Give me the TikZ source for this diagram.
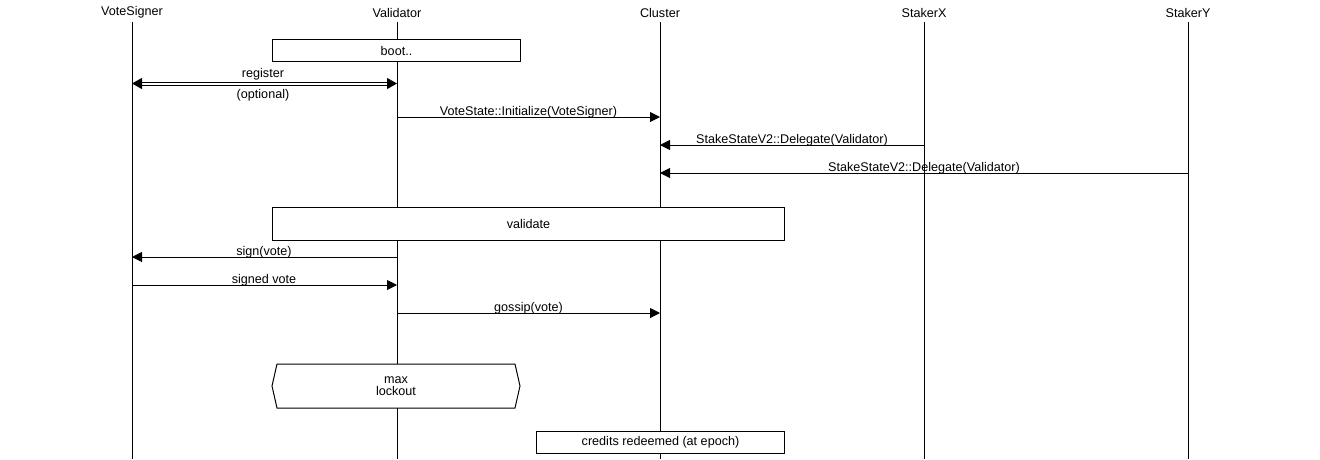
\documentclass[tikz,border=0pt]{standalone}
\usepackage{fontspec}
\setmainfont{Liberation Sans}
\usetikzlibrary{arrows.meta,shapes.misc}
\begin{document}
\begin{tikzpicture}[x=1pt,y=-1pt,
  every node/.style={font=\fontsize{12.6}{12}\selectfont, inner sep=0pt},
  head/.style={anchor=center},
  life/.style={line width=1pt},
  msg/.style={line width=1pt,-{Triangle[length=10pt,width=10pt]}},
  lbl/.style={anchor=base},
  boxnode/.style={draw,line width=1pt,fill=white,minimum height=22pt,anchor=north west}
]
\useasboundingbox (0,0) rectangle (1320,459);
% headers
\node[head] (hVS) at (132,12.5) {VoteSigner};
\node[head] (hVa) at (397,12.5) {Validator};
\node[head] (hCl) at (660,12.5) {Cluster};
\node[head] (hSX) at (924,12.5) {StakerX};
\node[head] (hSY) at (1188,12.5) {StakerY};
% lifeline ends
\foreach \n/\x in {VS/132,Va/397,Cl/660,SX/924,SY/1188}{
  \coordinate (s\n) at (\x,22);
  \coordinate (e\n) at (\x,459);
  \draw[life] (s\n) -- (e\n);
}
% boot box
\node[boxnode,minimum width=248pt] (boot) at (272,39) {};
\node (boottxt) at (boot.center) {boot..};
% register
\coordinate (r1) at (132,83.5);
\coordinate (r2) at (397,83.5);
\draw[line width=1pt,double,double distance=2pt,{Triangle[length=10pt,width=11pt]}-{Triangle[length=10pt,width=11pt]}] (r1) -- (r2);
\node[lbl] (regl) at (263,77) {register};
\node (regopt) at (263,95.5) {(optional)};
% initialize
\coordinate (i1) at (397,117);
\coordinate (i2) at (660,117);
\draw[msg] (i1) -- (i2);
\node[lbl] (il) at (528.5,115.5) {VoteState::Initialize(VoteSigner)};
% delegate 1
\coordinate (d1a) at (924,145);
\coordinate (d1b) at (660,145);
\draw[msg] (d1a) -- (d1b);
\node[lbl] (d1l) at (792,143.5) {StakeStateV2::Delegate(Validator)};
% delegate 2
\coordinate (d2a) at (1188,173);
\coordinate (d2b) at (660,173);
\draw[msg] (d2a) -- (d2b);
\node[lbl] (d2l) at (924,171.5) {StakeStateV2::Delegate(Validator)};
% validate
\node[boxnode,minimum width=512pt,minimum height=33pt] (val) at (272,207) {};
\node (valtxt) at (val.center) {validate};
% sign
\coordinate (s1) at (397,257);
\coordinate (s2) at (132,257);
\draw[msg] (s1) -- (s2);
\node[lbl] (sl) at (264,255.5) {sign(vote)};
% signed vote
\coordinate (sv1) at (132,285);
\coordinate (sv2) at (397,285);
\draw[msg] (sv1) -- (sv2);
\node[lbl] (svl) at (264,283.5) {signed vote};
% gossip
\coordinate (g1) at (397,313);
\coordinate (g2) at (660,313);
\draw[msg] (g1) -- (g2);
\node[lbl] (gl) at (528.5,311.5) {gossip(vote)};
% max lockout hexagon
\filldraw[line width=1pt,fill=white] (277,364) -- (515,364) -- (520,386) -- (515,408) -- (277,408) -- (272,386) -- cycle;
\node[align=center,font=\fontsize{12.6}{11.5}\selectfont] (ml) at (396,386) {max\\lockout};
% credits redeemed
\node[boxnode,minimum width=248pt] (cr) at (536,431) {};
\node (crtxt) at (cr.center) {credits redeemed (at epoch)};
\end{tikzpicture}
\end{document}
